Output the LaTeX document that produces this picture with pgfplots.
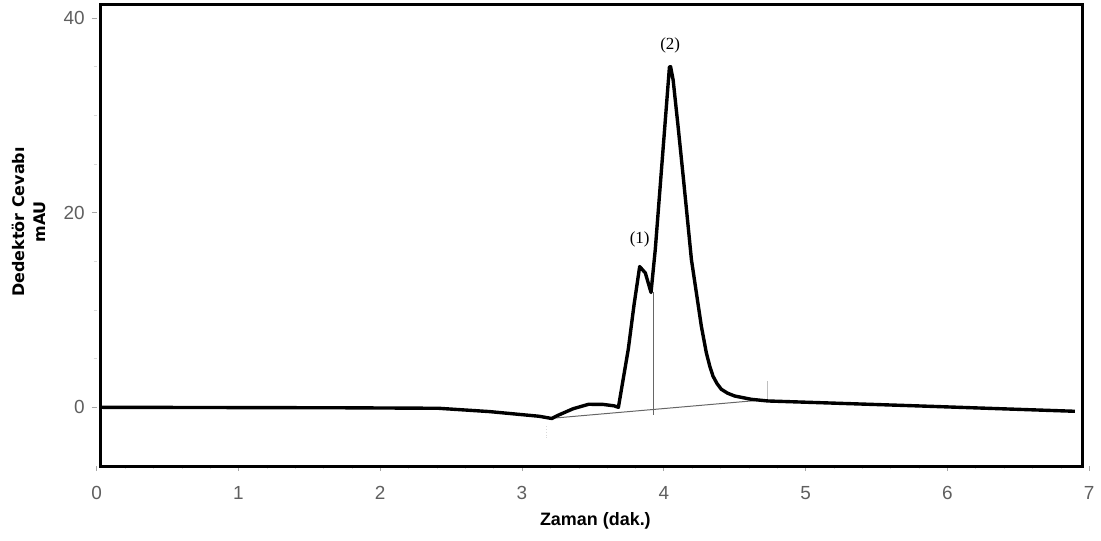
\documentclass[border=0pt]{standalone}
\usepackage{fontspec}
\setmainfont{Liberation Sans}
\newfontfamily\serifnum{Liberation Serif}
\newfontfamily\ylabfont{DejaVu Sans}
\usepackage{pgfplots}
\pgfplotsset{compat=1.18}
\definecolor{ticklab}{RGB}{95,95,95}

% chromatogram trace
\usepackage{pgfplotstable}
\pgfplotstableread{
x y
0.03 0.00
1.73 -0.05
2.41 -0.10
2.77 -0.44
3.12 -0.92
3.21 -1.15
3.25 -0.85
3.36 -0.15
3.47 0.31
3.57 0.30
3.65 0.15
3.68 0.00
3.75 6.00
3.79 10.50
3.83 14.46
3.87 13.80
3.91 11.80
3.94 16.20
4.040 34.97
4.048 35.00
4.066 33.64
4.101 28.85
4.137 23.72
4.172 18.59
4.195 15.18
4.230 11.76
4.265 8.34
4.300 5.61
4.325 4.20
4.347 3.21
4.375 2.45
4.406 1.85
4.450 1.45
4.500 1.16
4.617 0.82
4.735 0.65
5.78 0.15
6.90 -0.41
}\trace

\begin{document}
\begin{tikzpicture}
\begin{axis}[
    scale only axis,
    width=497.5pt, height=231.5pt,
    xmin=0, xmax=7, ymin=-6.05, ymax=41.4,
    axis line style={draw=none},
    xtick={0,...,7}, ytick={0,20,40},
    minor x tick num=4, minor y tick num=3,
    tick align=outside,
    major tick length=2.5pt, minor tick length=1.5pt,
    major tick style={gray!70, thin},
    minor tick style={gray!30, very thin},
    xtick pos=bottom, ytick pos=left,
    tick label style={font=\fontsize{9.5}{11}\selectfont, text=ticklab},
    /pgf/number format/assume math mode=true,
    xticklabel style={anchor=center, yshift=-11pt},
    xlabel={Zaman (dak.)},
    xlabel style={at={(rel axis cs:0.5025,0)}, anchor=center, yshift=-27.5pt,
                  font=\bfseries\fontsize{9}{11}\selectfont},
    ylabel={Dedektör Cevabı\\mAU},
    ylabel style={at={(rel axis cs:0,0.529)}, anchor=center, yshift=34pt,
                  align=center, font=\ylabfont\bfseries\fontsize{8}{10.5}\selectfont},
    clip=false,
]
% frame of the plot area
\draw[line width=1.5pt] (axis cs:0.028,-6.05) rectangle (axis cs:6.953,41.4);
% integration baseline and drop lines
\addplot[gray!80!black, line width=0.5pt] coordinates {(3.21,-1.13)(4.67,0.72)};
\addplot[gray!80!black, line width=0.5pt] coordinates {(3.93,11.8)(3.93,-0.75)};
\addplot[gray!50, line width=0.4pt] coordinates {(4.73,2.67)(4.73,0.82)};
\addplot[gray!30, line width=0.4pt, densely dotted] coordinates {(3.17,-1.95)(3.17,-3.3)};
% signal
\addplot[black, line width=1.7pt, line join=round] table {\trace};
\node[font=\serifnum\fontsize{8.5}{10}\selectfont] at (axis cs:3.83,17.2) {(1)};
\node[font=\serifnum\fontsize{8.5}{10}\selectfont] at (axis cs:4.045,37.2) {(2)};
\coordinate (bl) at (axis cs:-0.682,-13.64);
\coordinate (tr) at (axis cs:7.063,41.85);
\end{axis}
\path (bl) rectangle (tr);
\end{tikzpicture}
\end{document}
